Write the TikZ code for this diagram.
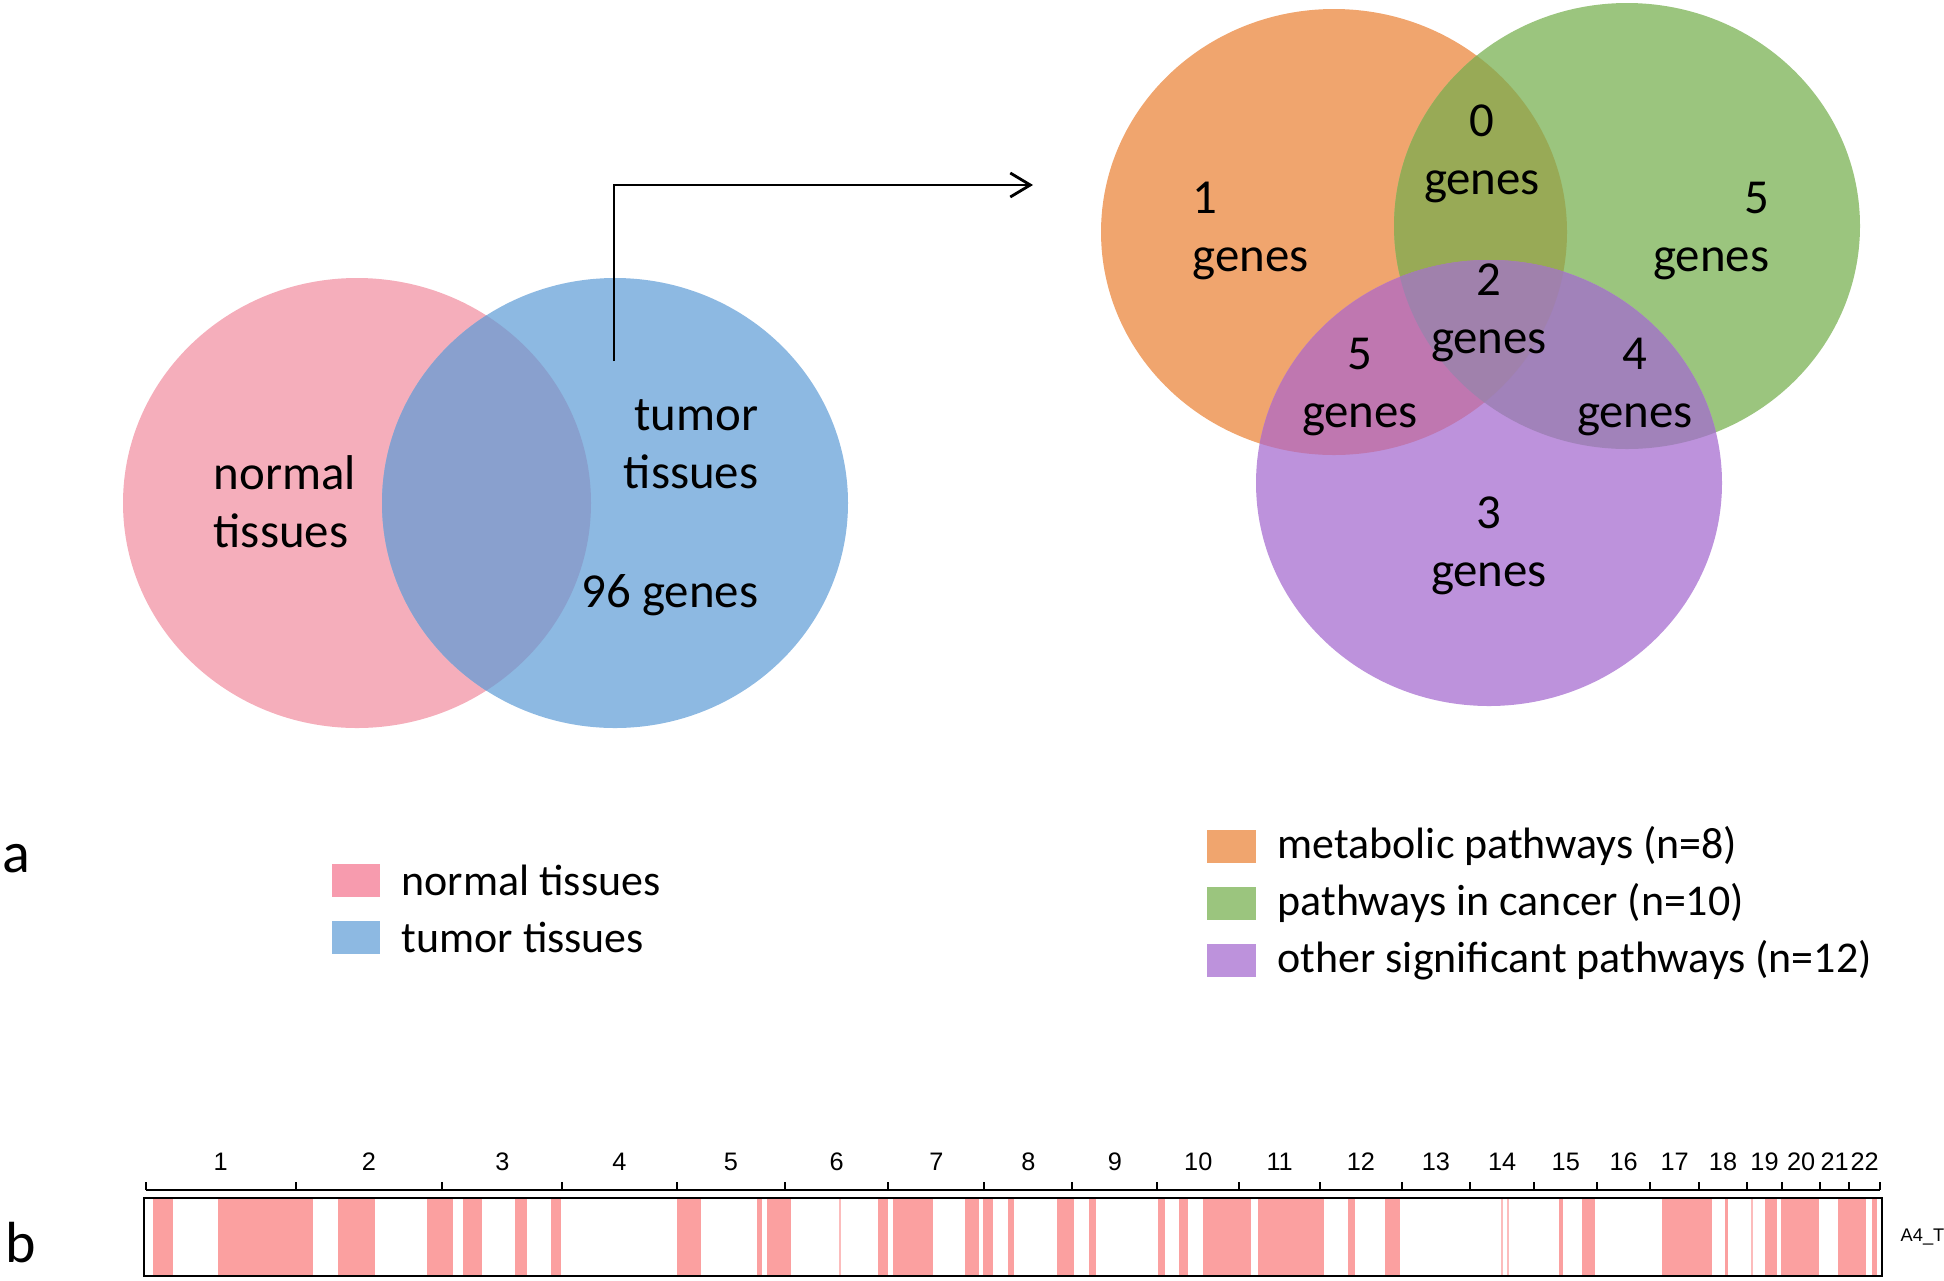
\documentclass[tikz,border=0pt]{standalone}
\usepackage{fontspec}
\setmainfont{Carlito}
\newfontfamily\chrfont{Liberation Sans}
\usetikzlibrary{arrows.meta}

\definecolor{normalpink}{RGB}{245,174,187}
\definecolor{tumorblue}{RGB}{141,185,226}
\definecolor{bothcol}{RGB}{137,160,206}
\definecolor{legpink}{RGB}{247,155,174}
\definecolor{metaorange}{RGB}{240,165,110}
\definecolor{cancergreen}{RGB}{155,197,126}
\definecolor{otherpurple}{RGB}{189,146,220}
\definecolor{ogcol}{RGB}{152,170,86}
\definecolor{opcol}{RGB}{191,119,176}
\definecolor{gpcol}{RGB}{161,130,186}
\definecolor{ogpcol}{RGB}{160,129,172}
\definecolor{chrpink}{RGB}{251,160,160}

\begin{document}
\begin{tikzpicture}[x=0.1mm,y=-0.1mm,
  vlabel/.style={inner sep=0pt,font=\fontsize{13.9}{16.4}\selectfont},
  leglabel/.style={inner sep=0pt,anchor=base west,font=\fontsize{12.5}{15}\selectfont},
  chrlabel/.style={inner sep=0pt,anchor=base,font=\chrfont\fontsize{7.2}{8}\selectfont},
  panel/.style={inner sep=0pt,anchor=base west,font=\fontsize{16.5}{19}\selectfont}]
\useasboundingbox (0,0) rectangle (1944,1280);

% normal vs tumor
\fill[normalpink] (357,503) ellipse [x radius=234,y radius=225];
\fill[tumorblue] (615,503) ellipse [x radius=233,y radius=225];
\begin{scope}
\clip (357,503) ellipse [x radius=234,y radius=225];
\fill[bothcol] (615,503) ellipse [x radius=233,y radius=225];
\end{scope}
\node[vlabel,anchor=base west,align=left] (normal) at (213,547) {normal\\tissues};
\node[vlabel,anchor=base east,align=right] (tumor) at (759,488) {tumor\\tissues};
\node[vlabel,anchor=base east] (ngenes) at (759,607) {96 genes};

% arrow to the pathways
\coordinate (tumorup) at (614,361);
\coordinate (pathin) at (1033,185);
\draw[line width=0.8pt,-{Straight Barb[length=2mm,width=2.4mm]}] (tumorup) |- (pathin);

% three pathway sets
\fill[metaorange] (1334,232) ellipse [x radius=233,y radius=223];
\fill[cancergreen] (1627,226) ellipse [x radius=233,y radius=223];
\fill[otherpurple] (1489,483) ellipse [x radius=233,y radius=223];
\begin{scope}
\clip (1334,232) ellipse [x radius=233,y radius=223];
\fill[ogcol] (1627,226) ellipse [x radius=233,y radius=223];
\fill[opcol] (1489,483) ellipse [x radius=233,y radius=223];
\end{scope}
\begin{scope}
\clip (1627,226) ellipse [x radius=233,y radius=223];
\fill[gpcol] (1489,483) ellipse [x radius=233,y radius=223];
\end{scope}
\begin{scope}
\clip (1334,232) ellipse [x radius=233,y radius=223];
\clip (1627,226) ellipse [x radius=233,y radius=223];
\fill[ogpcol] (1489,483) ellipse [x radius=233,y radius=223];
\end{scope}
\node[vlabel,anchor=base west,align=left] (onlym) at (1192,271) {1\\genes};
\node[vlabel,anchor=base east,align=right] (onlyc) at (1770,271) {5\\genes};
\node[vlabel,anchor=base,align=center] (mc) at (1482,194) {0\\genes};
\node[vlabel,anchor=base,align=center] (mco) at (1489,353) {2\\genes};
\node[vlabel,anchor=base,align=center] (mo) at (1360,427) {5\\genes};
\node[vlabel,anchor=base,align=center] (co) at (1635,427) {4\\genes};
\node[vlabel,anchor=base,align=center] (onlyo) at (1489,586) {3\\genes};

% legends
\node[panel] (pa) at (2,872) {a};
\fill[legpink] (332,864) rectangle (380,897);
\fill[tumorblue] (332,921) rectangle (380,954);
\node[leglabel] (lnormal) at (401,895) {normal tissues};
\node[leglabel] (ltumor) at (401,952) {tumor tissues};
\fill[metaorange] (1207,830) rectangle (1256,863);
\fill[cancergreen] (1207,887) rectangle (1256,920);
\fill[otherpurple] (1207,944) rectangle (1256,977);
\node[leglabel] (lmeta) at (1277,858) {metabolic pathways (n=8)};
\node[leglabel] (lcancer) at (1277,915) {pathways in cancer (n=10)};
\node[leglabel] (lother) at (1277,972) {other significant pathways (n=12)};

% chromosome track
\node[panel] (pb) at (5,1262) {b};
\foreach \a/\b in {153/173,218/313,338/375,427/453,463/482,515/527,551/561,
    677/701,757/762,767/791,878/888,893/933,965/979,983/993,1008/1014,
    1057/1074,1089/1096,1158/1165,1179/1188,1203/1251,1258/1324,1348/1355,
    1385/1400,1559/1563,1582/1595,1662/1712,1725/1728,1765/1777,1781/1819,
    1838/1866,1872/1877}
  \fill[chrpink] (\a,1198) rectangle (\b,1276);
\foreach \a in {840,1502,1508,1752}
  \draw[chrpink!70,line width=0.3pt] (\a,1198) -- (\a,1276);
\draw[line width=0.6pt] (144,1198) rectangle (1882,1276);
\draw[line width=0.6pt] (145.7,1190) -- (1880,1190);
\foreach \t in {145.7,295.7,442.3,562.3,676.7,785,888.3,984.3,1072.3,1157.3,
    1239.3,1320,1401.7,1470,1534.3,1597.3,1650,1699.3,1746.7,1782.3,1820,1849.3,1880}
  \draw[line width=0.6pt] (\t,1190) -- (\t,1182);
\foreach \t [count=\i, remember=\t as \p (initially 145.7)] in {295.7,442.3,562.3,
    676.7,785,888.3,984.3,1072.3,1157.3,1239.3,1320,1401.7,1470,1534.3,1597.3,
    1650,1699.3,1746.7,1782.3,1820,1849.3,1880}
  \node[chrlabel] (chr\i) at ({(\p+\t)/2},1170) {\i};
\node[inner sep=0pt,anchor=west,font=\chrfont\fontsize{5.2}{6}\selectfont] (sample) at (1900,1237) {A4\_T};
\end{tikzpicture}
\end{document}
